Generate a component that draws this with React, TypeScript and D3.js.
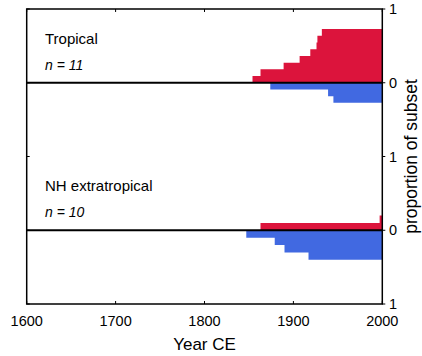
import React from "react";
import * as d3 from "d3";

// Data: step changes (year, count) for each panel
const tropicalN = 11;
const tropicalUpYears = [1854, 1863, 1889, 1907, 1919, 1926, 1927, 1932];
const tropicalUpCounts = [1, 2, 3, 4, 5, 6, 7, 8];
const tropicalDownYears = [1874, 1939, 1945];
const tropicalDownCounts = [1, 2, 3];

const nhN = 10;
const nhUpYears = [1863, 1997];
const nhUpCounts = [1, 2];
const nhDownYears = [1847, 1879, 1890, 1917];
const nhDownCounts = [1, 2, 3, 4];

const xTicks = [1600, 1700, 1800, 1900, 2000];
const rightTickLabels = ["1", "0", "1", "0", "1"];
const panelTitles = ["Tropical", "NH extratropical"];
const panelN = ["n = 11", "n = 10"];

const RED = "#DC143C";
const BLUE = "#4169E1";
const FONT = "Liberation Sans, Arial, Helvetica, sans-serif";

const left = 26.7;
const right = 382.3;
const top = 9;
const bottom = 304;
const unit = (bottom - top) / 4;

const x = d3.scaleLinear().domain([1600, 2000]).range([left, right]);

function buildSeries(years: number[], counts: number[], n: number) {
  const pts = years.map((yr, i) => ({ year: yr, v: counts[i] / n }));
  pts.push({ year: 2000, v: pts[pts.length - 1].v });
  return pts;
}

export default function App() {
  const panels = [
    {
      zero: top + unit,
      up: buildSeries(tropicalUpYears, tropicalUpCounts, tropicalN),
      down: buildSeries(tropicalDownYears, tropicalDownCounts, tropicalN),
    },
    {
      zero: top + unit * 3,
      up: buildSeries(nhUpYears, nhUpCounts, nhN),
      down: buildSeries(nhDownYears, nhDownCounts, nhN),
    },
  ];

  const rightTickYs = [0, 1, 2, 3, 4].map((i) => top + unit * i);

  return (
    <svg
      width={422}
      height={356}
      style={{ position: "absolute", left: 0, top: 0, background: "#fff" }}
      fontFamily={FONT}
    >
      <rect x={0} y={0} width={422} height={356} fill="#fff" />
      {panels.map((p, pi) => {
        const y = d3
          .scaleLinear()
          .domain([-1, 1])
          .range([p.zero + unit, p.zero - unit]);
        const areaUp = d3
          .area<{ year: number; v: number }>()
          .x((d) => x(d.year))
          .y0(y(0))
          .y1((d) => y(d.v))
          .curve(d3.curveStepAfter);
        const areaDown = d3
          .area<{ year: number; v: number }>()
          .x((d) => x(d.year))
          .y0(y(0))
          .y1((d) => y(-d.v))
          .curve(d3.curveStepAfter);
        return (
          <g key={pi}>
            <path d={areaUp(p.up) || ""} fill={RED} />
            <path d={areaDown(p.down) || ""} fill={BLUE} />
            <line
              x1={left}
              x2={right}
              y1={y(0)}
              y2={y(0)}
              stroke="#000"
              strokeWidth={2}
            />
            <text x={45} y={p.zero - 39} fontSize={15} fill="#000">
              {panelTitles[pi]}
            </text>
            <text
              x={45}
              y={p.zero - 13}
              fontSize={14}
              fontStyle="italic"
              fill="#000"
            >
              {panelN[pi]}
            </text>
          </g>
        );
      })}
      {/* frame */}
      <rect
        x={left}
        y={top}
        width={right - left}
        height={bottom - top}
        fill="none"
        stroke="#000"
        strokeWidth={1.5}
      />
      {/* x ticks */}
      {xTicks.map((t) => (
        <g key={t}>
          <line x1={x(t)} x2={x(t)} y1={bottom} y2={bottom - 3} stroke="#000" strokeWidth={1} />
          <line x1={x(t)} x2={x(t)} y1={top} y2={top + 3} stroke="#000" strokeWidth={1} />
          <text
            x={x(t)}
            y={326}
            textAnchor="middle"
            fontSize={14.5}
            fill="#000"
          >
            {t}
          </text>
        </g>
      ))}
      {/* right ticks */}
      {rightTickYs.map((ty, i) => (
        <g key={i}>
          <line x1={right} x2={right + 3} y1={ty} y2={ty} stroke="#000" strokeWidth={1} />
          <line x1={left} x2={left + 3} y1={ty} y2={ty} stroke="#000" strokeWidth={1} />
          <text x={389} y={ty + 5} fontSize={14.5} fill="#000">
            {rightTickLabels[i]}
          </text>
        </g>
      ))}
      <text
        transform={`translate(417,${top + unit * 2}) rotate(-90)`}
        textAnchor="middle"
        fontSize={17.5}
        fill="#000"
      >
        proportion of subset
      </text>
      <text x={(left + right) / 2} y={350} textAnchor="middle" fontSize={17} fill="#000">
        Year CE
      </text>
    </svg>
  );
}
